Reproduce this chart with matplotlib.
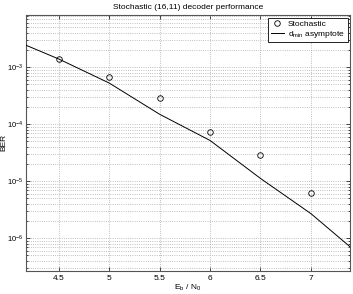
import matplotlib
matplotlib.use("Agg")
import matplotlib.pyplot as plt
from matplotlib.ticker import LogLocator, NullFormatter
import numpy as np

plt.rcParams["font.family"] = ["Liberation Sans", "DejaVu Sans"]
plt.rcParams["mathtext.fontset"] = "custom"
plt.rcParams["mathtext.rm"] = "Liberation Sans"
plt.rcParams["mathtext.it"] = "Liberation Sans"

# measured points
ebn0 = [4.5, 5.0, 5.5, 6.0, 6.5, 7.0]
ber_stochastic = [1.4e-3, 6.8e-4, 2.9e-4, 7.3e-5, 2.9e-5, 6.1e-6]

# dmin asymptote
ebn0_asym = [4.0, 4.5, 5.0, 5.5, 6.0, 6.5, 7.0, 7.5]
ber_asym = [3.3e-3, 1.4e-3, 5.3e-4, 1.5e-4, 5.2e-5, 1.12e-5, 2.7e-6, 4.8e-7]

xticks = [4.5, 5, 5.5, 6, 6.5, 7]

fig = plt.figure(figsize=(3.53, 2.94), dpi=100)
ax = fig.add_axes([26 / 353, 1 - 270.7 / 294, 324 / 353, 255.7 / 294])

ax.semilogy(ebn0, ber_stochastic, "o", mfc="none", mec="black", ms=4, mew=0.6,
            label="Stochastic", zorder=3)
ax.semilogy(ebn0_asym, ber_asym, "-", color="black", lw=0.7,
            label=r"d$_{\mathregular{min}}$ asymptote", zorder=3)

ax.set_xlim(4.176, 7.387)
ax.set_ylim(10 ** -6.57, 10 ** -2.082)
ax.set_xticks(xticks)
ax.set_xticklabels([f"{t:g}" for t in xticks])
ax.yaxis.set_major_locator(LogLocator(base=10, numticks=10))
ax.yaxis.set_minor_locator(LogLocator(base=10, subs=np.arange(2, 10), numticks=20))
ax.yaxis.set_minor_formatter(NullFormatter())

ax.grid(True, which="major", linestyle=":", color="#aaaaaa", lw=0.6)
ax.grid(True, which="minor", axis="y", linestyle=":", color="#aaaaaa", lw=0.6)

ax.tick_params(which="both", direction="in", top=True, right=True, labelsize=6,
               length=3, width=0.5, pad=3)
ax.tick_params(axis="y", pad=2, labelsize=5.5)
ax.tick_params(which="minor", length=1.5)
for s in ax.spines.values():
    s.set_linewidth(0.8)
    s.set_color("#555555")

ax.set_title("Stochastic (16,11) decoder performance", fontsize=6, pad=4)
ax.set_xlabel(r"E$_\mathregular{b}$ / N$_\mathregular{0}$", fontsize=6, labelpad=1)
ax.set_ylabel("BER", fontsize=6)
ax.yaxis.set_label_coords(-19 / 324, 0.5)

leg = ax.legend(loc="upper right", fontsize=6, fancybox=False, framealpha=1,
                edgecolor="black", borderpad=0.3, handlelength=1.6,
                labelspacing=0.1, borderaxespad=0.3, handletextpad=0.5)
leg.get_frame().set_linewidth(0.6)

fig.savefig("out.png", dpi=100)
